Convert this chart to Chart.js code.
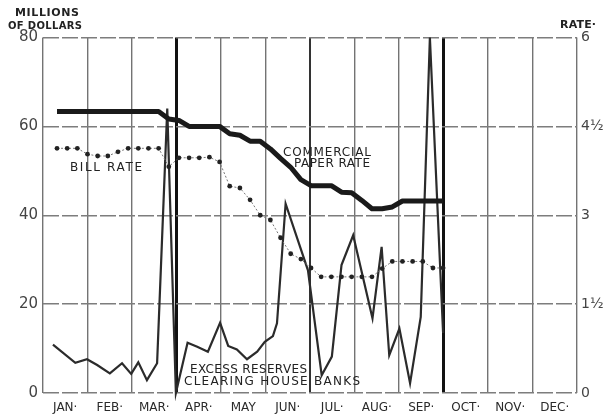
<!DOCTYPE html>
<html>
<head>
<meta charset="utf-8">
<script src="https://cdn.jsdelivr.net/npm/chart.js@4/dist/chart.umd.min.js"></script>
<style>
  html, body { margin: 0; padding: 0; background: #fff; }
</style>
</head>
<body>
<canvas id="chart" width="609" height="416"></canvas>
<script>
// weekly figures, week 1 = first weekly statement in January
const months = ['JAN·', 'FEB·', 'MAR·', 'APR·', 'MAY', 'JUN·', 'JUL·', 'AUG·', 'SEP·', 'OCT·', 'NOV·', 'DEC·'];
const weeks = [1, 2, 3, 4, 5, 6, 7, 8, 9, 10, 11, 12, 13, 14, 15, 16, 17, 18, 19, 20,
  21, 22, 23, 24, 25, 26, 27, 28, 29, 30, 31, 32, 33, 34, 35, 36, 37, 38, 39];

// per cent
const paperRate = [4.75, 4.75, 4.75, 4.75, 4.75, 4.75, 4.75, 4.75, 4.75, 4.75, 4.75,
  4.625, 4.6, 4.5, 4.5, 4.5, 4.5, 4.375, 4.35, 4.25, 4.25,
  4.12, 3.96, 3.81, 3.6, 3.5, 3.5, 3.5, 3.39, 3.38, 3.25,
  3.11, 3.11, 3.14, 3.24, 3.24, 3.24, 3.24, 3.24];
const billRate = [4.13, 4.13, 4.13, 4.03, 4.0, 4.0, 4.07, 4.13, 4.13, 4.13, 4.13,
  3.82, 3.97, 3.97, 3.97, 3.98, 3.9, 3.49, 3.46, 3.26, 3.0,
  2.92, 2.62, 2.35, 2.26, 2.11, 1.96, 1.96, 1.96, 1.96, 1.96,
  1.96, 2.1, 2.22, 2.22, 2.22, 2.22, 2.11, 2.11];

// millions of dollars, excess reserves of clearing house banks
const reserveWeeks = [0.6, 2.8, 3.95, 4.95, 6.2, 7.4, 8.3, 9.0, 9.85, 10.85,
  11.85, 12.7, 13.85, 14.8, 15.85, 17.05, 17.85, 18.7, 19.7, 20.7,
  21.45, 22.25, 22.65, 23.5, 25.7, 27.05, 28.05, 29.0, 30.15, 32.05,
  32.95, 33.7, 34.7, 35.75, 36.8, 37.7, 39.0];
const excessReserves = [10.9, 6.8, 7.6, 6.3, 4.4, 6.7, 4.3, 6.9, 2.9, 6.7,
  64, 0, 11.3, 10.4, 9.3, 15.8, 10.6, 9.8, 7.6, 9.3,
  11.5, 12.8, 15.7, 42.6, 27.6, 4.0, 8.2, 28.8, 35.5, 16.8,
  32.9, 8.5, 14.5, 2.2, 17.1, 80, 13.5];

const millionTicks = [0, 20, 40, 60, 80];
const rateTicks = [0, 1.5, 3, 4.5, 6];
const rateLabels = ['0', '1½', '3', '4½', '6'];

const XMIN = -0.38, XMAX = 52.18;
const monthEdge = k => XMIN + (XMAX - XMIN) * k / 12;
const FONT = 'DejaVu Sans';
const INK = '#222';

// spread a label over a given width, like the hand lettering
function fitText(c, text, x, y, w) {
  c.letterSpacing = '0px';
  const m = c.measureText(text).width;
  const sp = text.length > 1 ? (w - m) / (text.length - 1) : 0;
  c.letterSpacing = sp + 'px';
  c.fillText(text, x, y);
  c.letterSpacing = '0px';
}

const paperBg = {
  id: 'paperBg',
  beforeDraw(chart) {
    const c = chart.ctx;
    c.save();
    c.fillStyle = '#ffffff';
    c.fillRect(0, 0, chart.width, chart.height);
    c.restore();
  }
};

const notes = {
  id: 'notes',
  afterDraw(chart) {
    const c = chart.ctx;
    c.save();
    c.fillStyle = INK;
    c.textBaseline = 'middle';
    c.textAlign = 'left';
    c.font = 'bold 11px "' + FONT + '"';
    fitText(c, 'MILLIONS', 15, 13, 64);
    c.font = 'bold 10px "' + FONT + '"';
    fitText(c, 'OF DOLLARS', 8, 26, 74);
    c.font = 'bold 11px "' + FONT + '"';
    fitText(c, 'RATE·', 560, 25, 36);

    c.font = '12px "' + FONT + '"';
    fitText(c, 'BILL RATE', 70, 167.5, 72);
    fitText(c, 'COMMERCIAL', 283, 152.5, 88);
    fitText(c, 'PAPER RATE', 294, 163.5, 76);
    fitText(c, 'EXCESS RESERVES', 190, 369.5, 117);
    fitText(c, 'CLEARING HOUSE BANKS', 184, 382, 176);
    c.restore();
  }
};

function edgeStyle(ctx, wide, mid, thin) {
  const i = ctx.index;
  if (i % 2) return null;
  const k = i / 2;
  if (k === 3 || k === 9) return wide;
  if (k === 6) return mid;
  return thin;
}

new Chart(document.getElementById('chart'), {
  type: 'line',
  data: {
    datasets: [{
      label: 'Commercial paper rate',
      data: weeks.map((w, i) => ({ x: w, y: paperRate[i] })),
      yAxisID: 'rate',
      borderColor: '#1a1a1a',
      borderWidth: 5,
      borderJoinStyle: 'round',
      pointRadius: 0,
      tension: 0
    }, {
      label: 'Bill rate',
      data: weeks.map((w, i) => ({ x: w, y: billRate[i] })),
      yAxisID: 'rate',
      borderColor: '#777',
      borderWidth: 1,
      borderDash: [2, 2],
      pointRadius: 2.4,
      pointBorderWidth: 0,
      pointBackgroundColor: '#222',
      tension: 0
    }, {
      label: 'Excess reserves',
      data: reserveWeeks.map((w, i) => ({ x: w, y: excessReserves[i] })),
      yAxisID: 'y',
      borderColor: '#2b2b2b',
      borderWidth: 2.2,
      borderJoinStyle: 'miter',
      pointRadius: 0,
      tension: 0
    }]
  },
  options: {
    responsive: false,
    animation: false,
    clip: false,
    layout: { padding: { top: 37.5, left: 0, right: 0, bottom: 0 } },
    plugins: {
      legend: { display: false },
      tooltip: { enabled: false }
    },
    scales: {
      x: {
        type: 'linear',
        min: XMIN,
        max: XMAX,
        afterBuildTicks: s => {
          const t = [];
          for (let k = 0; k <= 12; k++) {
            t.push({ value: monthEdge(k) });
            if (k < 12) t.push({ value: monthEdge(k + 0.5) });
          }
          s.ticks = t;
        },
        afterFit: s => { s.height = 23; },
        ticks: {
          autoSkip: false,
          maxRotation: 0,
          padding: 8,
          color: '#2a2a2a',
          font: { family: FONT, size: 12 },
          callback: (v, i) => (i % 2 ? months[(i - 1) / 2] : '')
        },
        grid: {
          drawTicks: false,
          color: ctx => edgeStyle(ctx, '#111', '#333', '#737373') || 'rgba(0,0,0,0)',
          lineWidth: ctx => edgeStyle(ctx, 3, 2, 1.4) || 0
        },
        border: { display: false }
      },
      y: {
        position: 'left',
        min: 0,
        max: 80,
        afterBuildTicks: s => { s.ticks = millionTicks.map(v => ({ value: v })); },
        afterFit: s => { s.width = 43; },
        ticks: {
          padding: 5,
          color: '#444',
          font: { family: FONT, size: 15 }
        },
        grid: { drawTicks: false, color: '#7d7d7d', lineWidth: 1.4 },
        border: { display: false, dash: [16, 3] }
      },
      rate: {
        position: 'right',
        min: 0,
        max: 6,
        afterBuildTicks: s => { s.ticks = rateTicks.map(v => ({ value: v })); },
        afterFit: s => { s.width = 32; },
        ticks: {
          padding: 4,
          color: '#444',
          font: { family: FONT, size: 14 },
          callback: (v, i) => rateLabels[i]
        },
        grid: { drawOnChartArea: false, drawTicks: false },
        border: { display: false }
      }
    }
  },
  plugins: [paperBg, notes]
});
</script>
</body>
</html>
